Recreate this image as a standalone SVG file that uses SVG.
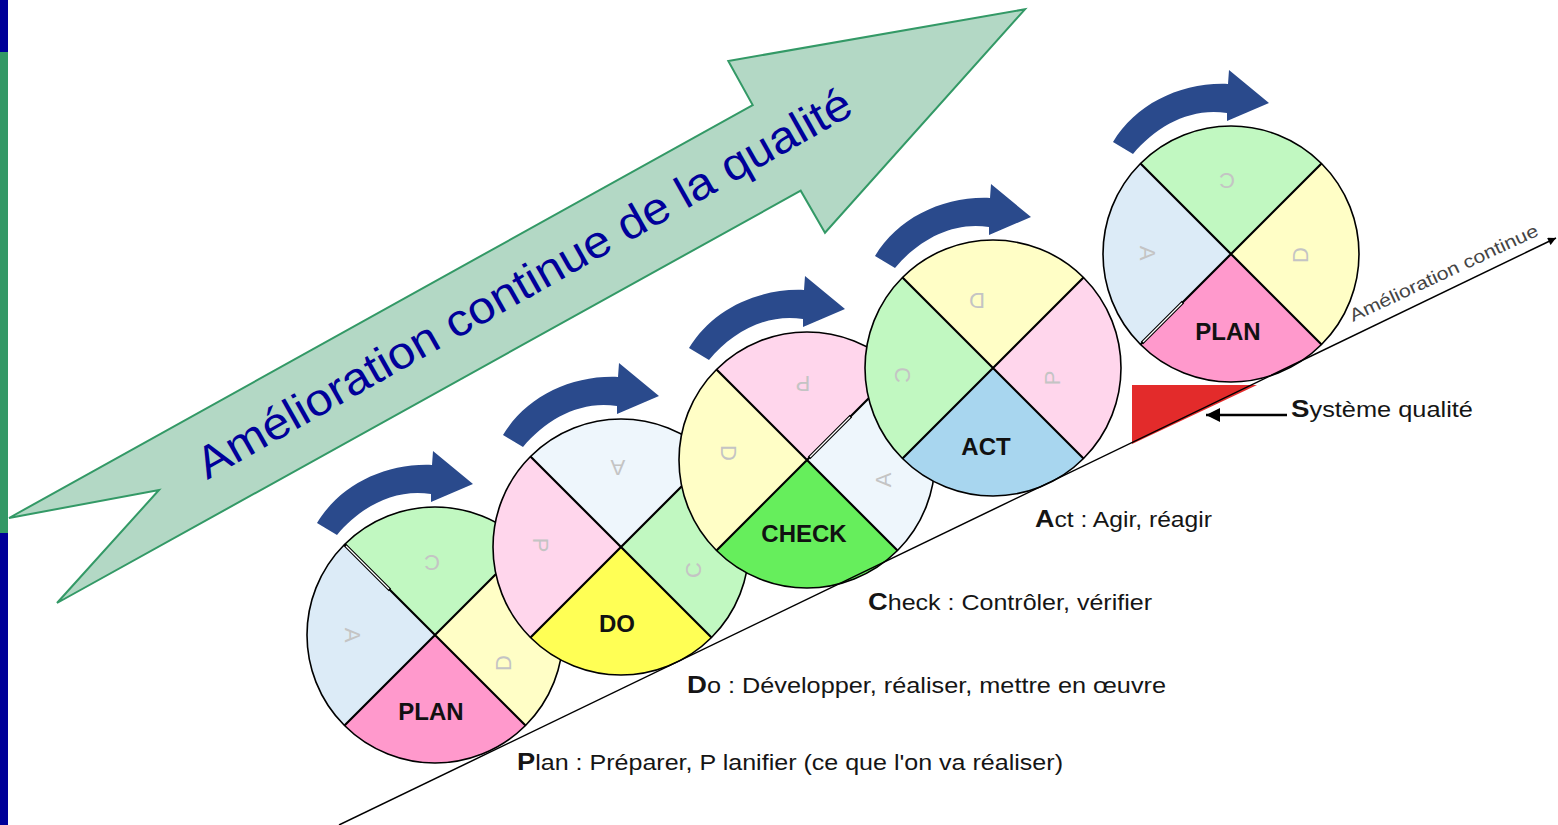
<svg xmlns="http://www.w3.org/2000/svg" xmlns:xlink="http://www.w3.org/1999/xlink" width="1558" height="825" viewBox="0 0 1558 825">
<style>
.lt-c{fill:#C1F8C1}.lt-d{fill:#FFFEC6}.lt-p{fill:#FFD6EC}.lt-a{fill:#DCEBF7}.lt-a2{fill:#EEF6FC}
.b-plan{fill:#FF99CC}.b-do{fill:#FFFF55}.b-check{fill:#66EE5C}.b-act{fill:#A8D6EF}
.frame{fill:none;stroke:#000;stroke-width:1.6}
.div{fill:none;stroke:#000;stroke-width:2.2}
.dbl{fill:none;stroke:#000;stroke-width:3.4}
.dblw{fill:none;stroke:#FFF;stroke-width:1.2}
.ltr{font-family:"Liberation Sans",Arial,sans-serif;font-size:22px;fill:#C4C4C4;text-anchor:middle;dominant-baseline:central}
.big{font-family:"Liberation Sans",Arial,sans-serif;font-weight:bold;font-size:24px;fill:#111;text-anchor:middle}
.lbl{font-family:"Liberation Sans",Arial,sans-serif;font-size:22px;fill:#151515}
.ini{font-weight:bold;font-size:24px}
.rot{fill:#2A4A8C}
</style>
<defs>
<path id="sT" d="M0,0 L-90.51,-90.51 A128,128 0 0 1 90.51,-90.51 Z"/>
<path id="sR" d="M0,0 L90.51,-90.51 A128,128 0 0 1 90.51,90.51 Z"/>
<path id="sB" d="M0,0 L90.51,90.51 A128,128 0 0 1 -90.51,90.51 Z"/>
<path id="sL" d="M0,0 L-90.51,90.51 A128,128 0 0 1 -90.51,-90.51 Z"/>
<g id="frame"><circle class="frame" r="128"/><path class="div" d="M-90.51,-90.51 L90.51,90.51 M90.51,-90.51 L-90.51,90.51"/></g>
<path id="rotArrow" d="M-118,-112 C-95,-150 -50,-172 -3,-170 L-2,-184 L38,-151 L-4,-133 L-4,-141 C-40,-147 -75,-128 -98,-100 Z"/>
<marker id="ah" viewBox="0 0 10 10" refX="10" refY="5" markerWidth="10" markerHeight="8" markerUnits="userSpaceOnUse" orient="auto"><path d="M0,0 L10,5 L0,10 Z" fill="#000"/></marker>
<marker id="ah2" viewBox="0 0 10 10" refX="10" refY="5" markerWidth="22" markerHeight="14" markerUnits="userSpaceOnUse" orient="auto"><path d="M0,0 L10,5 L0,10 Z" fill="#000"/></marker>
</defs>
<rect width="1558" height="825" fill="#FFFFFF"/>
<g id="sidebar">
<rect x="0" y="0" width="8" height="52" fill="#000099"/>
<rect x="0" y="52" width="8" height="481" fill="#339966"/>
<rect x="0" y="533" width="8" height="292" fill="#000099"/>
</g>
<g id="bigArrow">
<polygon points="9,518 752.7,105 728.3,61 1025,9.3 825,232.7 800.7,190.7 57,603 159,490" fill="#B3D8C5" stroke="#339966" stroke-width="2" stroke-linejoin="miter"/>
<text transform="translate(531.5,296.5) rotate(-29.5)" x="0" y="0" text-anchor="middle" font-family="Liberation Sans, Arial, sans-serif" font-size="45" fill="#00009A" textLength="745" lengthAdjust="spacingAndGlyphs">Amélioration continue de la qualité</text>
</g>
<g id="wheel1" transform="translate(435,635)">
<use xlink:href="#sT" class="lt-c"/><use xlink:href="#sR" class="lt-d"/><use xlink:href="#sB" class="b-plan"/><use xlink:href="#sL" class="lt-a"/>
<use xlink:href="#frame"/>
<path class="dbl" d="M-90.5,-90.5 L-45,-45"/><path class="dblw" d="M-89,-89 L-46,-46"/>
<text class="ltr" transform="translate(-3,-73) rotate(180)">C</text>
<text class="ltr" transform="translate(68,28) rotate(-90)">D</text>
<text class="ltr" transform="translate(-83,0) rotate(90)">A</text>
<text class="big" x="-4" y="85">PLAN</text>
<use xlink:href="#rotArrow" class="rot"/>
</g>
<g id="wheel2" transform="translate(621,547)">
<use xlink:href="#sT" class="lt-a2"/><use xlink:href="#sR" class="lt-c"/><use xlink:href="#sB" class="b-do"/><use xlink:href="#sL" class="lt-p"/>
<use xlink:href="#frame"/>
<text class="ltr" transform="translate(-3,-80) rotate(180)">A</text>
<text class="ltr" transform="translate(72,23) rotate(-90)">C</text>
<text class="ltr" transform="translate(-81,-2) rotate(90)">P</text>
<text class="big" x="-4" y="85">DO</text>
<use xlink:href="#rotArrow" class="rot"/>
</g>
<g id="wheel3" transform="translate(807,460)">
<use xlink:href="#sT" class="lt-p"/><use xlink:href="#sR" class="lt-a2"/><use xlink:href="#sB" class="b-check"/><use xlink:href="#sL" class="lt-d"/>
<use xlink:href="#frame"/>
<path class="dbl" d="M2,-2 L44,-44"/><path class="dblw" d="M3,-3 L43,-43"/>
<text class="ltr" transform="translate(-4,-77) rotate(180)">P</text>
<text class="ltr" transform="translate(76,20) rotate(-90)">A</text>
<text class="ltr" transform="translate(-79,-7) rotate(90)">D</text>
<text class="big" x="-3" y="82">CHECK</text>
<use xlink:href="#rotArrow" class="rot"/>
</g>
<g id="wheel4" transform="translate(993,368)">
<use xlink:href="#sT" class="lt-d"/><use xlink:href="#sR" class="lt-p"/><use xlink:href="#sB" class="b-act"/><use xlink:href="#sL" class="lt-c"/>
<use xlink:href="#frame"/>
<text class="ltr" transform="translate(-16,-68) rotate(180)">D</text>
<text class="ltr" transform="translate(59,10) rotate(-90)">P</text>
<text class="ltr" transform="translate(-91,7) rotate(90)">C</text>
<text class="big" x="-7" y="87">ACT</text>
<use xlink:href="#rotArrow" class="rot"/>
</g>
<g id="wedge">
<polygon points="1132,385 1257,385 1132,444" fill="#E32B2B"/>
</g>
<g id="wheel5" transform="translate(1231,254)">
<use xlink:href="#sT" class="lt-c"/><use xlink:href="#sR" class="lt-d"/><use xlink:href="#sB" class="b-plan"/><use xlink:href="#sL" class="lt-a"/>
<use xlink:href="#frame"/>
<path class="dbl" d="M-89,89 L-48,48"/><path class="dblw" d="M-88,88 L-49,49"/>
<text class="ltr" transform="translate(-4,-74) rotate(180)">C</text>
<text class="ltr" transform="translate(69,1) rotate(-90)">D</text>
<text class="ltr" transform="translate(-84,-1) rotate(90)">A</text>
<text class="big" x="-3" y="86">PLAN</text>
<use xlink:href="#rotArrow" class="rot"/>
</g>
<g id="connectors">
<line x1="339" y1="825" x2="1556" y2="238" stroke="#000" stroke-width="1.5" marker-end="url(#ah)"/>
<text transform="translate(1353,322) rotate(-25)" font-family="Liberation Sans, Arial, sans-serif" font-size="18" fill="#444" textLength="206" lengthAdjust="spacingAndGlyphs">Amélioration continue</text>
<line x1="1287" y1="415" x2="1206" y2="415" stroke="#000" stroke-width="2.5" marker-end="url(#ah2)"/>
</g>
<g id="labels">
<text class="lbl" x="517" y="770" textLength="546" lengthAdjust="spacingAndGlyphs"><tspan class="ini">P</tspan>lan : Préparer, P lanifier (ce que l'on va réaliser)</text>
<text class="lbl" x="687" y="693" textLength="479" lengthAdjust="spacingAndGlyphs"><tspan class="ini">D</tspan>o : Développer, réaliser, mettre en œuvre</text>
<text class="lbl" x="868" y="610" textLength="284" lengthAdjust="spacingAndGlyphs"><tspan class="ini">C</tspan>heck : Contrôler, vérifier</text>
<text class="lbl" x="1035" y="527" textLength="177" lengthAdjust="spacingAndGlyphs"><tspan class="ini">A</tspan>ct : Agir, réagir</text>
<text class="lbl" x="1291" y="417" textLength="182" lengthAdjust="spacingAndGlyphs"><tspan class="ini">S</tspan>ystème qualité</text>
</g>
</svg>
